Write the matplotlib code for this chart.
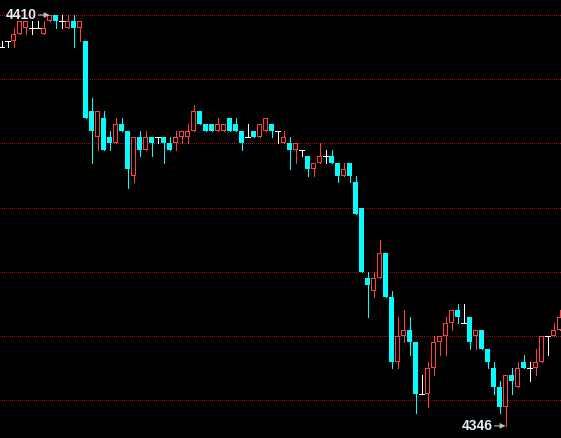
import matplotlib

matplotlib.use("Agg")
import matplotlib.pyplot as plt
import numpy as np
from matplotlib.patches import Rectangle

# one bar per column, left to right
opens = [
    4405, 4406, 4406, 4407, 4408, 4408, 4408, 4407, 4409, 4410,
    4409, 4408, 4409, 4408, 4406, 4395, 4391, 4394, 4391, 4390,
    4393, 4392, 4385, 4391, 4389, 4391, 4391, 4391, 4390, 4390,
    4391, 4391, 4392, 4395, 4393, 4393, 4392, 4392, 4394, 4393,
    4392, 4391, 4392, 4391, 4392, 4393, 4392, 4390, 4390, 4389,
    4389, 4388, 4386, 4387, 4388, 4388, 4387, 4385, 4387, 4384,
    4380, 4369, 4367, 4369, 4373, 4366, 4356, 4360, 4361, 4359,
    4351, 4351, 4355, 4359, 4360, 4362, 4364, 4362, 4363, 4360,
    4361, 4358, 4355, 4352, 4349, 4354, 4352, 4356, 4355, 4355,
    4356, 4360, 4360, 4361,
]
highs = [
    4406, 4406, 4408, 4409, 4409, 4409, 4409, 4409, 4410, 4410,
    4410, 4410, 4410, 4409, 4406, 4397, 4395, 4395, 4392, 4394,
    4394, 4392, 4391, 4392, 4392, 4391, 4391, 4391, 4391, 4392,
    4392, 4393, 4396, 4395, 4393, 4393, 4394, 4393, 4394, 4394,
    4392, 4393, 4392, 4393, 4394, 4393, 4392, 4392, 4391, 4390,
    4389, 4388, 4387, 4390, 4389, 4389, 4387, 4387, 4387, 4385,
    4380, 4370, 4370, 4375, 4373, 4367, 4363, 4364, 4363, 4359,
    4354, 4356, 4360, 4360, 4363, 4364, 4365, 4365, 4363, 4361,
    4361, 4358, 4356, 4353, 4354, 4355, 4356, 4357, 4356, 4358,
    4360, 4360, 4362, 4364,
]
lows = [
    4405, 4405, 4405, 4407, 4407, 4407, 4408, 4407, 4409, 4408,
    4408, 4408, 4405, 4406, 4394, 4387, 4389, 4389, 4389, 4390,
    4392, 4383, 4384, 4388, 4389, 4388, 4390, 4387, 4389, 4389,
    4390, 4390, 4392, 4393, 4392, 4392, 4392, 4392, 4392, 4392,
    4389, 4391, 4391, 4391, 4392, 4391, 4390, 4390, 4386, 4387,
    4388, 4385, 4385, 4387, 4387, 4387, 4384, 4385, 4384, 4379,
    4370, 4363, 4366, 4369, 4366, 4355, 4355, 4359, 4357, 4348,
    4351, 4349, 4354, 4357, 4357, 4361, 4362, 4362, 4358, 4358,
    4358, 4355, 4351, 4348, 4346, 4351, 4352, 4355, 4353, 4354,
    4356, 4357, 4360, 4361,
]
closes = [
    4405, 4406, 4407, 4409, 4409, 4408, 4408, 4408, 4410, 4409,
    4409, 4409, 4408, 4409, 4394, 4392, 4395, 4389, 4390, 4393,
    4392, 4386, 4391, 4389, 4391, 4390, 4391, 4390, 4389, 4391,
    4392, 4392, 4395, 4393, 4392, 4392, 4393, 4393, 4392, 4392,
    4390, 4391, 4391, 4393, 4394, 4392, 4392, 4391, 4389, 4390,
    4389, 4386, 4387, 4388, 4388, 4387, 4385, 4386, 4385, 4379,
    4370, 4368, 4369, 4373, 4366, 4356, 4360, 4361, 4359, 4351,
    4351, 4355, 4359, 4360, 4362, 4364, 4363, 4362, 4359, 4361,
    4358, 4356, 4352, 4349, 4354, 4353, 4355, 4355, 4355, 4356,
    4360, 4360, 4361, 4363,
]
grid_levels = [4410, 4400, 4390, 4380, 4370, 4360, 4350]

UP = "#ff4040"
DOWN = "#00ffff"
FLAT = "#ffffff"
GRID = "#b00000"
PX = 1 / 6      # one screen pixel in x data units
YPX = 1 / 6.42  # one screen pixel in price units
LW = 0.72       # one screen pixel in points


def draw_candles(ax, o, h, l, c):
    for i, (op, hi, lo, cl) in enumerate(zip(o, h, l, c)):
        if cl > op:
            col = UP
        elif cl < op:
            col = DOWN
        else:
            col = FLAT
        ax.vlines(i, lo, hi, color=col, lw=LW, antialiased=False, zorder=2)

        if cl == op:
            ax.hlines(op, i - 2.5 * PX, i + 2.5 * PX, color=FLAT, lw=LW,
                      antialiased=False, zorder=3)
            continue
        bot, top = min(op, cl), max(op, cl)
        ax.add_patch(Rectangle((i - 2.5 * PX, bot), 5 * PX, top - bot,
                               facecolor=col, edgecolor="none",
                               antialiased=False, zorder=3))
        if cl > op:
            # hollow up bar: punch out the inside
            ax.add_patch(Rectangle((i - 1.5 * PX, bot + YPX), 3 * PX,
                                   top - bot - 2 * YPX, facecolor="black",
                                   edgecolor="none", antialiased=False, zorder=4))


def mark_price(ax, idx, price):
    ax.annotate("", xy=(idx, price), xytext=(idx - 11 * PX, price),
                arrowprops=dict(arrowstyle="-|>,head_length=0.3,head_width=0.15",
                                color="#bdbdbd", lw=0.8, shrinkA=0, shrinkB=0),
                zorder=5)
    ax.text(idx - 12.5 * PX, price, f"{price:.0f}", ha="right", va="center",
            color="#e4ecf4", fontsize=10, fontweight="bold",
            family="Liberation Sans", zorder=5)


fig = plt.figure(figsize=(5.61, 4.38), dpi=100, facecolor="black")
ax = fig.add_axes([0, 0, 1, 1])
ax.set_facecolor("black")

for lvl in grid_levels:
    ax.axhline(lvl, color=GRID, lw=LW, ls=(0, (1, 1.5)), antialiased=False, zorder=1)

draw_candles(ax, opens, highs, lows, closes)

hi_idx = int(np.argmax(highs))
lo_idx = int(np.argmin(lows))
mark_price(ax, hi_idx, highs[hi_idx])
mark_price(ax, lo_idx, lows[lo_idx])

ax.set_xlim(-0.25, 93.25)
ax.set_ylim(4410 - 423 * YPX, 4410 + 15 * YPX)
ax.axis("off")

fig.savefig("out.png", dpi=100, facecolor="black")
